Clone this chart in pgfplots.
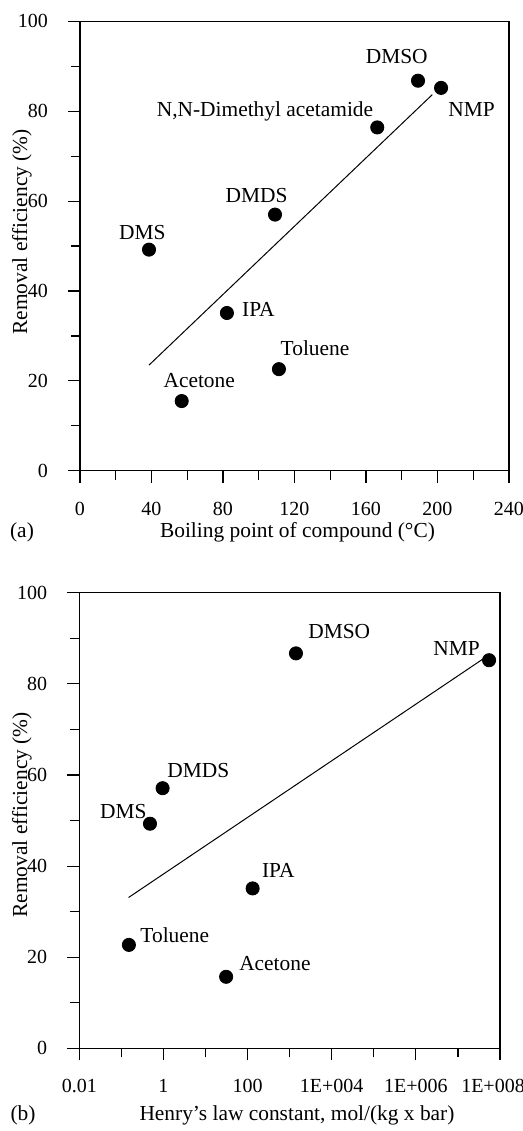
\documentclass[border=0pt]{standalone}
\usepackage{pgfplots}
\pgfplotsset{compat=1.18}
\usepackage{fontspec}
\setmainfont{Liberation Serif}

\pgfplotsset{
  panel/.style={
    scale only axis, clip=false,
    axis line style={line width=0.6pt},
    tick align=outside, xtick pos=bottom, ytick pos=left,
    major tick length=6pt, minor tick length=4.5pt,
    every tick/.style={black, line width=0.6pt},
    ymin=0, ymax=100, ytick={0,20,...,100}, minor ytick={10,30,...,90},
    tick label style={font=\fontsize{10}{12}\selectfont},
    /pgf/number format/assume math mode=true,
    xticklabel style={yshift=-6pt}, yticklabel style={xshift=-6.5pt},
  },
  dots/.style={only marks, mark=*, mark size=3.3pt, black},
  fit/.style={no marks, black, line width=0.5pt},
}

\begin{document}
\begin{tikzpicture}[font=\fontsize{10.7}{13}\selectfont]
% (a) removal vs boiling point
\begin{axis}[panel, at={(40pt,330.15pt)}, anchor=south west,
    width=214.5pt, height=224.65pt,
    xmin=0, xmax=240, xtick={0,40,...,240}, minor xtick={20,60,...,220}]
  \addplot[dots] coordinates {
    (38.6,49.2) (56.9,15.5) (82.2,35.1) (109.1,57.0) (111.3,22.6)
    (166.3,76.4) (189.1,86.8) (202,85.2)
  };
  \addplot[fit] coordinates {(38.6,23.5) (197.1,83.7)};
  \node at (axis cs:177.2,92.1) {DMSO};
  \node at (axis cs:219.1,80.3) {NMP};
  \node at (axis cs:103.5,79.9) {N,N-Dimethyl acetamide};
  \node at (axis cs:98.8,61.2) {DMDS};
  \node at (axis cs:34.9,53.1) {DMS};
  \node at (axis cs:99.8,35.8) {IPA};
  \node at (axis cs:131.5,27.2) {Toluene};
  \node at (axis cs:66.7,20.0) {Acetone};
\end{axis}
\node[rotate=90] at (11pt,449.5pt) {Removal efficiency (\%)};
\node at (148.75pt,299.5pt) {Boiling point of compound (°C)};
\node at (11pt,299.5pt) {(a)};

% (b) removal vs Henry's law constant
\begin{axis}[panel, at={(39.65pt,41.35pt)}, anchor=south west,
    width=210.35pt, height=227.75pt, xmode=log,
    xmin=1e-2, xmax=1e8, xtick={1e-2,1,1e2,1e4,1e6,1e8},
    minor xtick={1e-1,1e1,1e3,1e5,1e7},
    xticklabels={0.01,1,100,1E+004,1E+006,{\hspace*{-7pt}1E+008}}]
  \addplot[dots] coordinates {
    (0.151,22.7) (0.479,49.3) (0.955,57.1) (30.9,15.7) (131.8,35.1)
    (1413,86.7) (5.5e7,85.2)
  };
  \addplot[fit] coordinates {(0.148,33.1) (4.8e7,86.0)};
  \node at (axis cs:15136,91.6) {DMSO};
  \node at (axis cs:9.33e6,87.8) {NMP};
  \node at (axis cs:6.76,61.0) {DMDS};
  \node at (axis cs:0.112,52.0) {DMS};
  \node at (axis cs:537,39.1) {IPA};
  \node at (axis cs:1.86,24.9) {Toluene};
  \node at (axis cs:447,18.7) {Acetone};
\end{axis}
\node[rotate=90] at (11pt,158pt) {Removal efficiency (\%)};
\node at (148.5pt,8pt) {Henry's law constant, mol/(kg x bar)};
\node at (11.5pt,8pt) {(b)};

\pgfresetboundingbox
\useasboundingbox (0,0) rectangle (261.5pt,565.5pt);
\end{tikzpicture}
\end{document}
